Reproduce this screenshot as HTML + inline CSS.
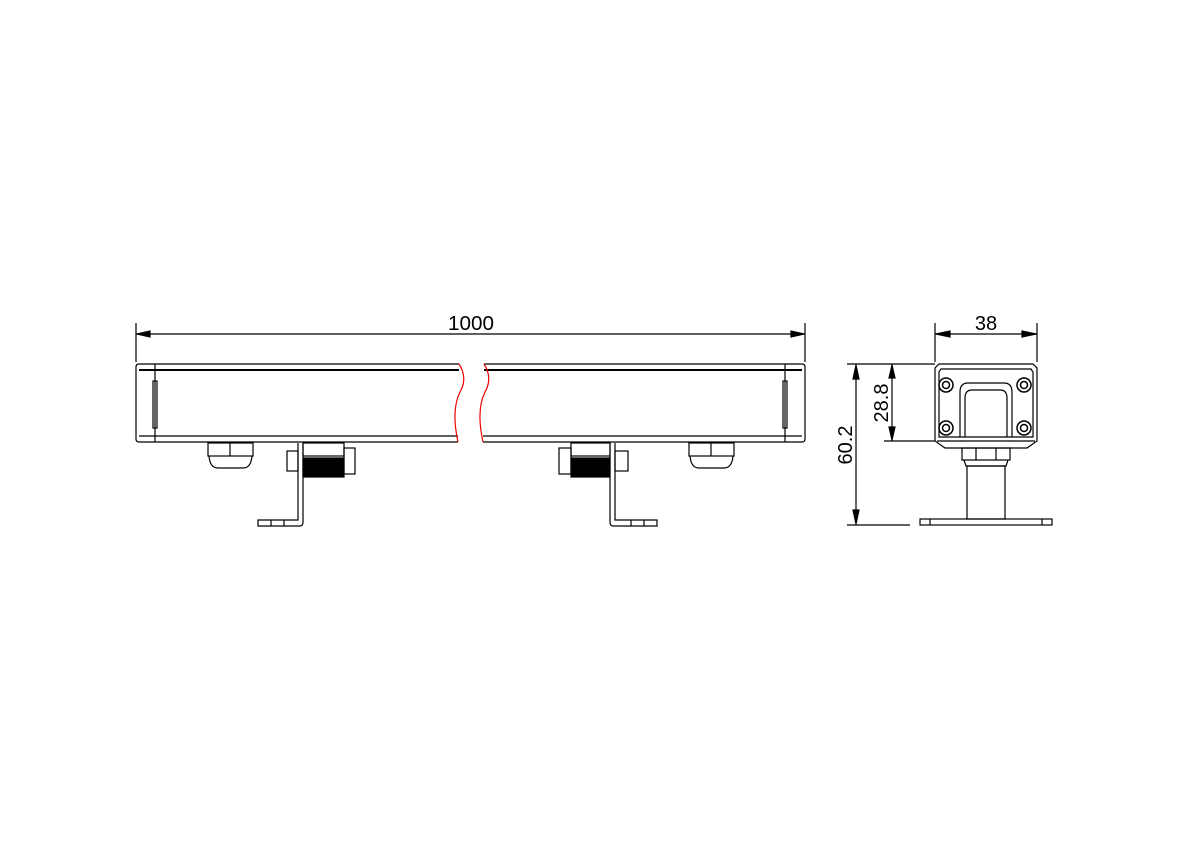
<!DOCTYPE html>
<html><head><meta charset="utf-8"><style>body{margin:0;background:#fff}svg{display:block}</style></head><body>
<svg width="1192" height="843" viewBox="0 0 1192 843" xmlns="http://www.w3.org/2000/svg" fill="none" stroke="#000" stroke-width="1.2" font-family="Liberation Sans, sans-serif">
<!-- 1000 dim -->
<line x1="136" y1="323" x2="136" y2="362"/><line x1="805" y1="323" x2="805" y2="362"/>
<line x1="136" y1="334" x2="805" y2="334"/>
<path d="M137 334 L150 331 L150 337Z M804 334 L791 331 L791 337Z" fill="#000"/>
<text x="471" y="330" font-size="20" fill="#000" stroke="none" text-anchor="middle" textLength="46" lengthAdjust="spacingAndGlyphs">1000</text>
<!-- bar left -->
<path d="M459 364 L139 364 Q136 364 136 367 L136 439 Q136 442 139 442 L458 442"/>
<line x1="139" y1="370" x2="459" y2="370" stroke-width="2"/>
<line x1="139" y1="436" x2="458" y2="436"/>
<line x1="155" y1="364" x2="155" y2="442"/>
<rect x="153" y="381" width="4" height="47"/>
<path d="M459 364 Q468 378 460 392 Q451 410 458 442" stroke="#e00"/>
<!-- bar right -->
<path d="M484 364 L802 364 Q805 364 805 367 L805 439 Q805 442 802 442 L483 442"/>
<line x1="484" y1="370" x2="802" y2="370" stroke-width="2"/>
<line x1="483" y1="436" x2="802" y2="436"/>
<line x1="785" y1="364" x2="785" y2="442"/>
<rect x="783" y="381" width="4" height="47"/>
<path d="M484 364 Q493 378 485 392 Q476 410 483 442" stroke="#e00"/>
<!-- glands -->
<g id="g1"><rect x="208" y="443" width="45" height="13"/><line x1="230" y1="443" x2="230" y2="456"/><path d="M209 456 Q210 468 218 468 L243 468 Q251 468 252 456"/></g>
<g transform="translate(481,0)"><rect x="208" y="443" width="45" height="13"/><line x1="230" y1="443" x2="230" y2="456"/><path d="M209 456 Q210 468 218 468 L243 468 Q251 468 252 456"/></g>
<!-- left bracket -->
<path d="M298 443 L298 520 L258 520 L258 526 L300 526 Q303 526 303 522 L303 443"/>
<rect x="287" y="451" width="11" height="20"/>
<rect x="303" y="443" width="41" height="13"/>
<rect x="303" y="458" width="41" height="19" fill="#000"/>
<rect x="344" y="448" width="11" height="26"/>
<line x1="271" y1="520" x2="271" y2="526"/><line x1="284" y1="520" x2="284" y2="526"/>
<!-- right bracket -->
<path d="M615 443 L615 520 L657 520 L657 526 L613 526 Q610 526 610 522 L610 443"/>
<rect x="615" y="451" width="13" height="20"/>
<rect x="571" y="443" width="39" height="13"/>
<rect x="571" y="458" width="39" height="19" fill="#000"/>
<rect x="559" y="448" width="12" height="26"/>
<line x1="631" y1="520" x2="631" y2="526"/><line x1="644" y1="520" x2="644" y2="526"/>
<!-- side view dims -->
<line x1="935" y1="323" x2="935" y2="362"/><line x1="1037" y1="323" x2="1037" y2="362"/>
<line x1="935" y1="334" x2="1037" y2="334"/>
<path d="M936 334 L950 331 L950 337Z M1036 334 L1022 331 L1022 337Z" fill="#000"/>
<text x="986" y="330" font-size="20" fill="#000" stroke="none" text-anchor="middle">38</text>
<line x1="847" y1="364" x2="935" y2="364"/><line x1="884" y1="441" x2="935" y2="441"/>
<line x1="847" y1="525" x2="910" y2="525"/>
<line x1="892" y1="364" x2="892" y2="441"/>
<path d="M892 365 L889 378 L895 378Z M892 440 L889 427 L895 427Z" fill="#000"/>
<line x1="856" y1="364" x2="856" y2="525"/>
<path d="M856 365 L853 379 L859 379Z M856 524 L853 510 L859 510Z" fill="#000"/>
<text transform="translate(888,403) rotate(-90)" font-size="20" fill="#000" stroke="none" text-anchor="middle">28.8</text>
<text transform="translate(852,445) rotate(-90)" font-size="20" fill="#000" stroke="none" text-anchor="middle">60.2</text>
<!-- side view body -->
<path d="M939 364 L1033 364 L1037 368 L1037 441 L1027 448 L945 448 L935 441 L935 368Z"/>
<path d="M941 369 L1031 369 L1033 372 L1033 437 L939 437 L939 372Z"/>
<line x1="937" y1="441" x2="1035" y2="441"/>
<g stroke-width="1.5"><circle cx="946" cy="385" r="7"/><circle cx="946" cy="385" r="3.5"/>
<circle cx="1024" cy="385" r="7"/><circle cx="1024" cy="385" r="3.5"/>
<circle cx="946" cy="428" r="7"/><circle cx="946" cy="428" r="3.5"/>
<circle cx="1024" cy="428" r="7"/><circle cx="1024" cy="428" r="3.5"/></g>
<path d="M960 437 L960 392 Q960 383 968 383 L1004 383 Q1012 383 1012 392 L1012 437"/>
<path d="M965 437 L965 398 Q965 390 972 390 L1000 390 Q1007 390 1007 398 L1007 437"/>
<rect x="962" y="448" width="48" height="12"/>
<line x1="976" y1="448" x2="976" y2="460"/><line x1="996" y1="448" x2="996" y2="460"/>
<path d="M964 460 L966 466 L1006 466 L1008 460"/>
<rect x="967" y="466" width="38" height="53"/>
<rect x="920" y="519" width="132" height="6"/>
<line x1="930" y1="519" x2="930" y2="525"/><line x1="1042" y1="519" x2="1042" y2="525"/>
</svg>
</body></html>
